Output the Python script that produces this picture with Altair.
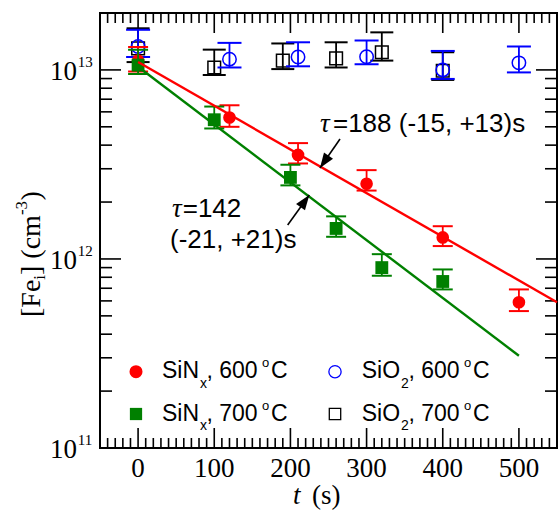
import math
import altair as alt
import pandas as pd

# ---------------- data: interstitial iron concentration vs anneal time ----------------
# SiNx-coated samples, 600 C
t_sin600 = [0, 120, 210, 300, 400, 500]
fe_sin600 = [1.12e13, 5.6e12, 3.55e12, 2.5e12, 1.3e12, 5.9e11]
lo_sin600 = [9.8e12, 5.0e12, 3.2e12, 2.3e12, 1.17e12, 5.3e11]
hi_sin600 = [1.32e13, 6.5e12, 4.1e12, 2.95e12, 1.49e12, 6.9e11]

# SiNx-coated samples, 700 C
t_sin700 = [0, 100, 200, 260, 320, 400]
fe_sin700 = [1.06e13, 5.45e12, 2.7e12, 1.45e12, 9.0e11, 7.6e11]
lo_sin700 = [9.5e12, 4.9e12, 2.45e12, 1.31e12, 8.15e11, 6.9e11]
hi_sin700 = [1.28e13, 6.4e12, 3.15e12, 1.68e12, 1.06e12, 8.8e11]

# SiO2-coated samples, 600 C
t_sio600 = [0, 120, 210, 300, 400, 500]
fe_sio600 = [1.33e13, 1.14e13, 1.17e13, 1.175e13, 1.0e13, 1.09e13]
lo_sio600 = [1.17e13, 1.03e13, 1.045e13, 1.07e13, 8.96e12, 9.7e12]
hi_sio600 = [1.63e13, 1.39e13, 1.40e13, 1.43e13, 1.26e13, 1.33e13]

# SiO2-coated samples, 700 C
t_sio700 = [0, 100, 190, 260, 320, 400]
fe_sio700 = [1.3e13, 1.03e13, 1.12e13, 1.15e13, 1.24e13, 9.9e12]
lo_sio700 = [1.1e13, 9.4e12, 1.01e13, 1.03e13, 1.12e13, 8.85e12]
hi_sio700 = [1.66e13, 1.28e13, 1.38e13, 1.40e13, 1.58e13, 1.24e13]

# exponential fits [Fe_i](t) = A * exp(-t / tau), drawn as straight lines on the log axis
fit_tau = [188, 142]
fit_A = [1.1e13, 1.04e13]
fit_tend = [550, 500]
fit_colors = ["#ff0000", "#008000"]

# annotations
ann1_text = "=188 (-15, +13)s"
ann2_text = ["=142", "(-21, +21)s"]
ann_t = [238.8, 41.9]
ann_fe = [4.71e12, 1.673e12]
arrow_tail_t = [265.1, 196.4]
arrow_tail_fe = [4.31e12, 1.513e12]
arrow_tip_t = [238.8, 224.8]
arrow_tip_fe = [3.03e12, 2.18e12]

# axes
x_domain = [-50, 550]
y_domain = [1e11, 2e13]
x_tick_values = [0, 100, 200, 300, 400, 500]
x_tick_labels = ["0", "100", "200", "300", "400", "500"]
y_tick_values = [1e11, 1e12, 1e13]
y_tick_exponents = ["11", "12", "13"]

# legend
legend_main = ["SiN", "SiO", "SiN", "SiO"]
legend_sub = ["x", "2", "x", "2"]
legend_temp = ["600", "600", "700", "700"]

# ---------------- layout ----------------
W, H = 457, 435
SERIF = "Liberation Serif, Times New Roman, serif"
SANS = "Liberation Sans, Arial, sans-serif"
RED, GREEN, BLUE, BLACK = "#ff0000", "#008000", "#0000ff", "#000000"
BL = "alphabetic"

xs = alt.Scale(domain=x_domain, nice=False, zero=False)
ys = alt.Scale(type="log", domain=y_domain, nice=False)
DUMMY = pd.DataFrame({"d": [0]})


def px(t):
    return (t - x_domain[0]) / (x_domain[1] - x_domain[0]) * W


def py(v):
    l0, l1 = math.log10(y_domain[0]), math.log10(y_domain[1])
    return (l1 - math.log10(v)) / (l1 - l0) * H


def X(field="t"):
    return alt.X(f"{field}:Q", scale=xs, axis=None)


def Y(field="fe"):
    return alt.Y(f"{field}:Q", scale=ys, axis=None)


layers = []

# ---- inward ticks on all four sides ----
x_minor = [v for v in range(-50, 551, 10) if v % 100 != 0]
x_major = [v for v in range(0, 501, 100)]
y_minor = [k * 10.0 ** n for n in (11, 12) for k in range(2, 10)]
y_major = [1e11, 1e12, 1e13]
tick_w = 1.6
for vals, ln in ((x_minor, 10), (x_major, 20)):
    d = pd.DataFrame({"t": vals})
    layers.append(alt.Chart(d).mark_rule(color="black", strokeWidth=tick_w).encode(
        x=X(), y=alt.value(H), y2=alt.value(H - ln)))
    layers.append(alt.Chart(d).mark_rule(color="black", strokeWidth=tick_w).encode(
        x=X(), y=alt.value(0), y2=alt.value(ln)))
for vals, ln in ((y_minor, 12), (y_major, 21)):
    d = pd.DataFrame({"fe": vals})
    layers.append(alt.Chart(d).mark_rule(color="black", strokeWidth=tick_w).encode(
        y=Y(), x=alt.value(0), x2=alt.value(ln)))
    layers.append(alt.Chart(d).mark_rule(color="black", strokeWidth=tick_w).encode(
        y=Y(), x=alt.value(W), x2=alt.value(W - ln)))


# ---- data series with error bars ----
def series(t, fe, lo, hi, color, shape, filled, size, cap):
    d = pd.DataFrame({"t": t, "fe": fe, "lo": lo, "hi": hi})
    base = alt.Chart(d)
    out = [
        base.mark_rule(color=color, strokeWidth=1.8).encode(x=X(), y=Y("lo"), y2="hi:Q"),
        base.mark_tick(color=color, orient="horizontal", size=cap, thickness=2, opacity=1).encode(
            x=X(), y=Y("hi")),
        base.mark_tick(color=color, orient="horizontal", size=cap, thickness=2, opacity=1).encode(
            x=X(), y=Y("lo")),
    ]
    if filled:
        out.append(base.mark_point(shape=shape, filled=True, size=size, color=color, opacity=1).encode(
            x=X(), y=Y()))
    else:
        out.append(base.mark_point(shape=shape, filled=False, size=size, color=color, opacity=1,
                                   strokeWidth=1.5).encode(x=X(), y=Y()))
    return out


layers += series(t_sio700, fe_sio700, lo_sio700, hi_sio700, BLACK, "square", False, 160, 23)
layers += series(t_sio600, fe_sio600, lo_sio600, hi_sio600, BLUE, "circle", False, 180, 24)
layers += series(t_sin600, fe_sin600, lo_sin600, hi_sin600, RED, "circle", True, 160, 20)
layers += series(t_sin700, fe_sin700, lo_sin700, hi_sin700, GREEN, "square", True, 165, 20)

# ---- exponential fit lines ----
for tau, A, tend, col in zip(fit_tau, fit_A, fit_tend, fit_colors):
    d = pd.DataFrame({"t": [0, tend], "fe": [A, A * math.exp(-tend / tau)]})
    layers.append(alt.Chart(d).mark_line(color=col, strokeWidth=2.4).encode(x=X(), y=Y()))

# ---- arrows pointing at the fits ----
angles = []
for t0, v0, t1, v1 in zip(arrow_tail_t, arrow_tail_fe, arrow_tip_t, arrow_tip_fe):
    dx, dy = px(t1) - px(t0), py(v1) - py(v0)
    angles.append(math.degrees(math.atan2(dx, -dy)) % 360)
arrows = pd.DataFrame({"t": arrow_tail_t, "fe": arrow_tail_fe,
                       "t2": arrow_tip_t, "fe2": arrow_tip_fe, "ang": angles})
layers.append(alt.Chart(arrows).mark_rule(color="black", strokeWidth=1.6).encode(
    x=X(), y=Y(), x2="t2:Q", y2="fe2:Q"))
ARROW_HEAD = "M0,0L0.55,1.5L-0.55,1.5Z"
layers.append(alt.Chart(arrows).mark_point(shape=ARROW_HEAD, filled=True, size=400, color="black",
                                           opacity=1).encode(
    x=X("t2"), y=Y("fe2"), angle=alt.Angle("ang:Q", scale=None)))

# ---- tau annotations ----
ann = pd.DataFrame({"t": ann_t, "fe": ann_fe})
a1 = alt.Chart(ann.iloc[[0]])
a2 = alt.Chart(ann.iloc[[1]])
layers += [
    a1.mark_text(text="τ", font=SERIF, fontStyle="italic", fontSize=27, align="left",
                 baseline=BL).encode(x=X(), y=Y()),
    a1.mark_text(text=ann1_text, font=SANS, fontSize=26, align="left", dx=13,
                 baseline=BL).encode(x=X(), y=Y()),
    a2.mark_text(text="τ", font=SERIF, fontStyle="italic", fontSize=27, align="left", dx=2,
                 baseline=BL).encode(x=X(), y=Y()),
    a2.mark_text(text=ann2_text[0], font=SANS, fontSize=26, align="left", dx=12.7,
                 baseline=BL).encode(x=X(), y=Y()),
    a2.mark_text(text=ann2_text[1], font=SANS, fontSize=26, align="left", dy=31.6,
                 baseline=BL).encode(x=X(), y=Y()),
]


# ---- legend ----
def label(s, x, y, size, font=SANS, style="normal", align="left"):
    kw = dict(text=s, font=font, fontSize=size, fontStyle=style, align=align, color="black",
              baseline=BL)
    return alt.Chart(DUMMY).mark_text(**kw).encode(x=alt.value(x), y=alt.value(y))


leg_marks = [(RED, "circle", True, 170), (BLUE, "circle", False, 150),
             (GREEN, "square", True, 150), (BLACK, "square", False, 130)]
leg_pos = [(36, 358.7), (235, 358.7), (36, 401), (235, 401)]
leg_offsets = {"SiN": (26, 64, 70.5, 126, 135), "SiO": (26.7, 66, 73.5, 129, 138)}
for i, (main, sub, temp) in enumerate(zip(legend_main, legend_sub, legend_temp)):
    col, shape, filled, size = leg_marks[i]
    mx, my = leg_pos[i]
    pt = dict(shape=shape, filled=filled, size=size, color=col, opacity=1)
    if not filled:
        pt["strokeWidth"] = 1.3
    layers.append(alt.Chart(DUMMY).mark_point(**pt).encode(x=alt.value(mx), y=alt.value(my)))
    o_main, o_sub, o_rest, o_deg, o_c = leg_offsets[main]
    base = my + 6.6
    layers += [
        label(main, mx + o_main, base, 23),
        label(sub, mx + o_sub, base + 9.7, 14),
        label(", " + temp, mx + o_rest, base, 23),
        label("o", mx + o_deg, base - 11, 13),
        label("C", mx + o_c, base, 23),
    ]

# ---- axis labels ----
xl = pd.DataFrame({"t": x_tick_values, "lab": x_tick_labels})
layers.append(alt.Chart(xl).mark_text(font=SERIF, fontSize=27, align="center", color="black",
                                      baseline=BL).encode(
    x=X(), y=alt.value(H + 29), text="lab:N"))
yl = pd.DataFrame({"fe": y_tick_values, "e": y_tick_exponents})
layers.append(alt.Chart(yl).mark_text(text="10", font=SERIF, fontSize=27, align="right", dy=10,
                                      color="black", baseline=BL).encode(x=alt.value(-23), y=Y()))
layers.append(alt.Chart(yl).mark_text(font=SERIF, fontSize=15, align="left", dy=-3.3,
                                      color="black", baseline=BL).encode(
    x=alt.value(-22.3), y=Y(), text="e:N"))

# x title: t (s)
layers += [
    label("t", 193, 491, 27, font=SERIF, style="italic"),
    label("(s)", 212, 491, 27, font=SERIF),
]


# y title: [Fe_i] (cm^-3), rotated
def vlabel(s, size, along, across):
    return alt.Chart(DUMMY).mark_text(text=s, font=SERIF, fontSize=size, align="left", angle=270,
                                      dx=along, dy=across, color="black", baseline=BL).encode(
        x=alt.value(-60), y=alt.value(304))


layers += [
    vlabel("[Fe", 28, 0, 0),
    vlabel("i", 17, 37.3, 5),
    vlabel("] (cm", 28, 42, 0),
    vlabel("-3", 17, 101.9, -13),
    vlabel(")", 28, 116.5, 0),
]

chart = alt.layer(*layers).properties(
    width=W, height=H,
    padding={"left": 100, "top": 13, "right": 1, "bottom": 63},
    autosize=alt.AutoSizeParams(type="none"),
).configure_view(stroke="black", strokeWidth=2)

chart.save("out.html", embed_options={"renderer": "svg", "actions": False})
